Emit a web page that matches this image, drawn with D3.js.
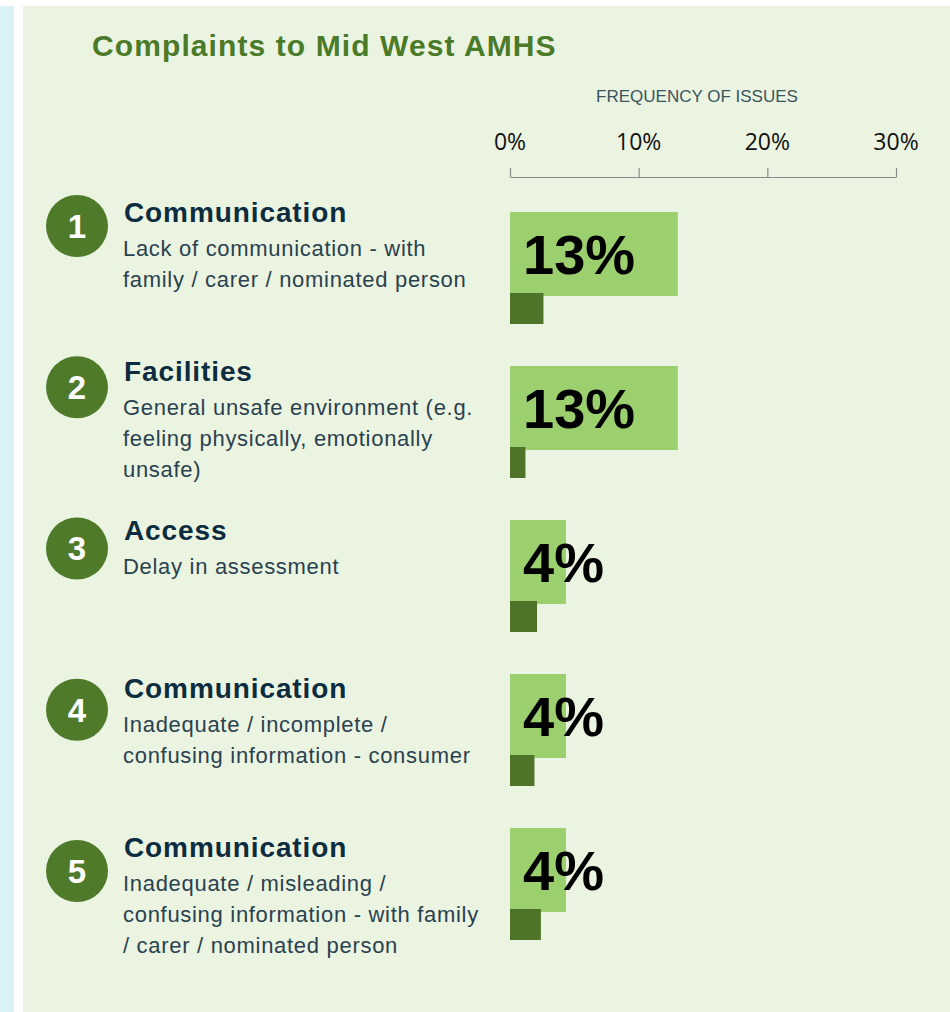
<!DOCTYPE html>
<html>
<head>
<meta charset="utf-8">
<script src="https://cdn.jsdelivr.net/npm/d3@7"></script>
<style>
    body { margin: 0; background: #ffffff; }
    svg { display: block; }
</style>
</head>
<body>
<svg id="chart" width="950" height="1012"></svg>
<script>
// data
const ranks = [1, 2, 3, 4, 5];
const categories = ["Communication", "Facilities", "Access", "Communication", "Communication"];
const descriptions = [
    ["Lack of communication - with", "family / carer / nominated person"],
    ["General unsafe environment (e.g.", "feeling physically, emotionally", "unsafe)"],
    ["Delay in assessment"],
    ["Inadequate / incomplete /", "confusing information - consumer"],
    ["Inadequate / misleading /", "confusing information - with family", "/ carer / nominated person"]
];
const serviceValues = [13.04, 13.04, 4.35, 4.35, 4.35];   // light bars (%)
const compareValues = [2.6, 1.2, 2.1, 1.9, 2.4];          // dark bars (%)
const valueLabels = ["13%", "13%", "4%", "4%", "4%"];
const tickValues = [0, 10, 20, 30];

// everything for the chart lives under this object
chart = {};

chart.colors = {
    panel: "#eaf4e1",
    strip: "#dbf1f8",
    title: "#4b7a29",
    circle: "#4e7a2a",
    light: "#9ccf6e",
    dark: "#4f7328",
    heading: "#0d2c40",
    text: "#2a4150"
};
chart.x = d3.scaleLinear().domain([0, 30]).range([510, 896]);
chart.barY = d3.scalePoint().domain(ranks).range([212, 828]);
chart.labelY = d3.scalePoint().domain(ranks).range([222, 857]);
chart.circleY = d3.scalePoint().domain(ranks).range([226, 871]);

chart.init = function() {
    this.svg = d3.select("#chart");
    this.rows = ranks.map((r, i) => ({
        rank: r,
        category: categories[i],
        lines: descriptions[i],
        value: serviceValues[i],
        compare: compareValues[i],
        label: valueLabels[i]
    }));

    this.drawBackground();
    this.drawAxis();
    this.drawLabels();
    this.drawBars();
};

chart.drawBackground = function() {
    this.svg.append("rect")
        .attr("x", 0).attr("y", 6)
        .attr("width", 14).attr("height", 1006)
        .style("fill", this.colors.strip);
    this.svg.append("rect")
        .attr("x", 23).attr("y", 6)
        .attr("width", 927).attr("height", 1006)
        .style("fill", this.colors.panel);

    this.svg.append("text")
        .attr("x", 92).attr("y", 56)
        .style("font-family", "'Liberation Sans', Arial, sans-serif")
        .style("font-weight", "bold")
        .style("font-size", "30px")
        .style("letter-spacing", "1.1px")
        .style("fill", this.colors.title)
        .text("Complaints to Mid West AMHS");
};

chart.drawAxis = function() {
    this.svg.append("text")
        .attr("x", 697).attr("y", 102)
        .attr("text-anchor", "middle")
        .style("font-family", "'Liberation Sans', Arial, sans-serif")
        .style("font-size", "17px")
        .style("fill", "#3b5560")
        .text("FREQUENCY OF ISSUES");

    // axis with ticks pointing up, labels drawn separately above
    var axis = this.svg.append("g")
        .attr("transform", "translate(0, 177)")
        .call(d3.axisTop(this.x).tickValues(tickValues).tickSize(9)
            .tickSizeOuter(0).tickFormat(""));
    axis.select(".domain").attr("stroke", "#8a8a8a").attr("stroke-width", 1.2);
    axis.selectAll(".tick line").attr("stroke", "#8a8a8a").attr("stroke-width", 1.2);

    this.svg.append("g")
        .selectAll("text")
        .data(tickValues)
        .enter()
        .append("text")
        .attr("x", (d) => this.x(d))
        .attr("y", 150)
        .attr("text-anchor", "middle")
        .style("font-family", "'Open Sans', sans-serif")
        .style("font-size", "23px")
        .style("fill", "#111")
        .text((d) => d + "%");
};

chart.drawLabels = function() {
    var g = this.svg.append("g")
        .selectAll("g")
        .data(this.rows)
        .enter()
        .append("g");

    g.append("circle")
        .attr("cx", 77)
        .attr("cy", (d) => this.circleY(d.rank))
        .attr("r", 31)
        .style("fill", this.colors.circle);

    g.append("text")
        .attr("x", 77)
        .attr("y", (d) => this.circleY(d.rank))
        .attr("dy", "0.36em")
        .attr("text-anchor", "middle")
        .style("font-family", "'Liberation Sans', Arial, sans-serif")
        .style("font-weight", "bold")
        .style("font-size", "33px")
        .style("fill", "#ffffff")
        .text((d) => d.rank);

    g.append("text")
        .attr("x", 124)
        .attr("y", (d) => this.labelY(d.rank))
        .style("font-family", "'Liberation Sans', Arial, sans-serif")
        .style("font-weight", "bold")
        .style("font-size", "28px")
        .style("letter-spacing", "0.9px")
        .style("fill", this.colors.heading)
        .text((d) => d.category);

    g.each(function(d) {
        d3.select(this).selectAll(".desc")
            .data(d.lines)
            .enter()
            .append("text")
            .attr("class", "desc")
            .attr("x", 123)
            .attr("y", (line, j) => chart.labelY(d.rank) + 34 + j * 31)
            .style("font-family", "'Liberation Sans', Arial, sans-serif")
            .style("font-size", "22px")
            .style("letter-spacing", "0.7px")
            .style("fill", chart.colors.text)
            .text((line) => line);
    });
};

chart.drawBars = function() {
    var g = this.svg.append("g");

    g.selectAll(".light")
        .data(this.rows)
        .enter()
        .append("rect")
        .attr("class", "light")
        .attr("x", this.x(0))
        .attr("y", (d) => this.barY(d.rank))
        .attr("width", (d) => this.x(d.value) - this.x(0))
        .attr("height", 84)
        .style("fill", this.colors.light);

    g.selectAll(".dark")
        .data(this.rows)
        .enter()
        .append("rect")
        .attr("class", "dark")
        .attr("x", this.x(0))
        .attr("y", (d) => this.barY(d.rank) + 81)
        .attr("width", (d) => this.x(d.compare) - this.x(0))
        .attr("height", 31)
        .style("fill", this.colors.dark);

    g.selectAll(".value")
        .data(this.rows)
        .enter()
        .append("text")
        .attr("class", "value")
        .attr("x", this.x(0) + 13)
        .attr("y", (d) => this.barY(d.rank) + 62)
        .style("font-family", "'Liberation Sans', Arial, sans-serif")
        .style("font-weight", "bold")
        .style("font-size", "56px")
        .style("fill", "#000")
        .text((d) => d.label);
};

chart.init();
</script>
</body>
</html>
